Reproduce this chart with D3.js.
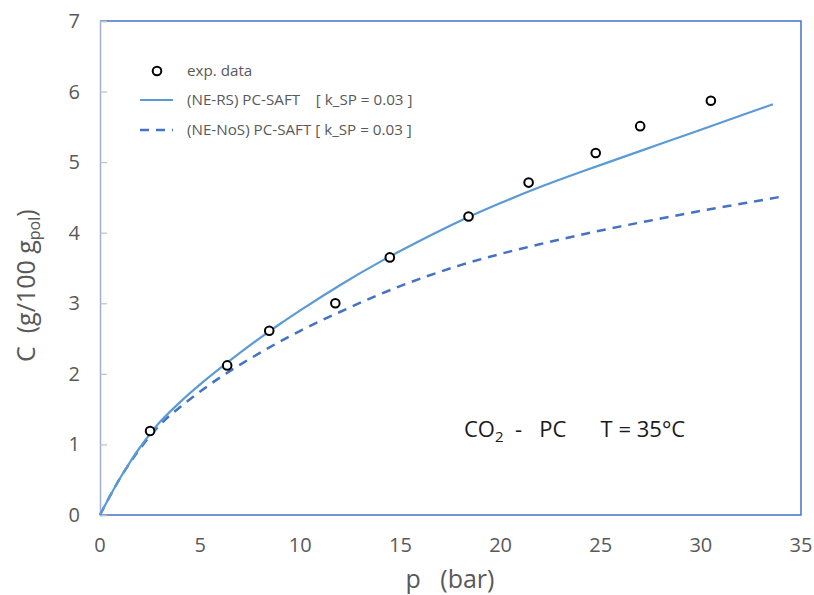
<!DOCTYPE html>
<html>
<head>
<meta charset="utf-8">
<script src="https://cdn.jsdelivr.net/npm/d3@7/dist/d3.min.js"></script>
<style>
  html, body { margin: 0; padding: 0; background: #fff; }
  svg text { font-family: "Open Sans", "Noto Sans", sans-serif; white-space: pre; }
</style>
</head>
<body>
<svg id="chart" width="814" height="595"></svg>
<script>
// Experimental sorption points: pressure (bar) and concentration (g/100 g_pol)
const expPressure = [2.5, 6.35, 8.45, 11.75, 14.47, 18.4, 21.4, 24.75, 26.97, 30.5];
const expConc     = [1.19, 2.12, 2.61, 3.00, 3.65, 4.23, 4.71, 5.13, 5.51, 5.87];

// (NE-RS) PC-SAFT model curve
const rsPressure = [0, 0.5, 1, 1.5, 2, 2.5, 3, 4, 5, 6, 7, 8, 9, 10, 12, 14, 16, 18, 20, 22, 24, 26, 28, 30, 32, 33.6];
const rsConc     = [0, 0.27, 0.52, 0.75, 0.96, 1.15, 1.32, 1.60, 1.85, 2.08, 2.30, 2.51, 2.71, 2.90, 3.26, 3.59, 3.89, 4.17, 4.42, 4.65, 4.86, 5.06, 5.26, 5.46, 5.66, 5.82];

// (NE-NoS) PC-SAFT model curve
const nosPressure = [0, 0.5, 1, 1.5, 2, 2.5, 3, 4, 5, 6, 7, 8, 9, 10, 12, 14, 16, 18, 20, 22, 24, 26, 28, 30, 32, 34];
const nosConc     = [0, 0.27, 0.52, 0.74, 0.94, 1.12, 1.28, 1.53, 1.75, 1.95, 2.13, 2.30, 2.46, 2.61, 2.88, 3.13, 3.35, 3.54, 3.70, 3.84, 3.97, 4.09, 4.20, 4.31, 4.41, 4.51];

const xTicks = [0, 5, 10, 15, 20, 25, 30, 35];
const yTicks = [0, 1, 2, 3, 4, 5, 6, 7];

const legendLabels = ["exp. data", "(NE-RS) PC-SAFT    [ k_SP = 0.03 ]", "(NE-NoS) PC-SAFT [ k_SP = 0.03 ]"];

const svg = d3.select("#chart");
const plot = { left: 100, right: 801, top: 21, bottom: 515 };

const x = d3.scaleLinear().domain([0, 35]).range([plot.left, plot.right]);
const y = d3.scaleLinear().domain([0, 7]).range([plot.bottom, plot.top]);

const axisGrey = "#595959";
const frameBlue = "#4472C4";
const rsColor = "#5B9BD5";
const nosColor = "#4472C4";

// Plot frame (top, right, bottom in blue)
svg.append("path")
  .attr("d", `M${plot.left},${plot.top}H${plot.right}V${plot.bottom}H${plot.left}`)
  .attr("fill", "none").attr("stroke", frameBlue).attr("stroke-width", 1.5);

// Y axis with inward ticks
const yAxis = d3.axisRight(y).tickValues(yTicks).tickSize(7).tickFormat("");
const gy = svg.append("g").attr("transform", `translate(${plot.left},0)`).call(yAxis);
gy.select(".domain").attr("stroke", "#9FB0D4").attr("stroke-width", 1.5);
gy.selectAll(".tick line").attr("stroke", "#BFBFBF").attr("stroke-width", 1.2);

// Y tick labels
svg.append("g").selectAll("text").data(yTicks).join("text")
  .attr("x", 80).attr("y", d => y(d)).attr("dy", "0.35em")
  .attr("text-anchor", "end").attr("font-size", 20).attr("fill", axisGrey)
  .text(d => d);

// X tick labels
svg.append("g").selectAll("text").data(xTicks).join("text")
  .attr("x", d => x(d)).attr("y", 545).attr("dy", "0.35em")
  .attr("text-anchor", "middle").attr("font-size", 20).attr("fill", axisGrey)
  .text(d => d);

// Axis titles
svg.append("text")
  .attr("x", 450).attr("y", 588).attr("text-anchor", "middle")
  .attr("font-size", 25).attr("fill", axisGrey)
  .text("p   (bar)");

const yTitle = svg.append("text")
  .attr("transform", "translate(35,362) rotate(-90)")
  .attr("text-anchor", "start").attr("font-size", 25).attr("fill", axisGrey);
yTitle.append("tspan").text("C  (g/100 g");
yTitle.append("tspan").attr("font-size", 16).attr("dy", 5).text("pol");
yTitle.append("tspan").attr("dy", -5).text(")");

// Model curves
const line = d3.line().x(d => x(d[0])).y(d => y(d[1])).curve(d3.curveMonotoneX);

svg.append("path")
  .datum(nosPressure.map((p, i) => [p, nosConc[i]]))
  .attr("d", line).attr("fill", "none")
  .attr("stroke", nosColor).attr("stroke-width", 2.5)
  .attr("stroke-dasharray", "9,7");

svg.append("path")
  .datum(rsPressure.map((p, i) => [p, rsConc[i]]))
  .attr("d", line).attr("fill", "none")
  .attr("stroke", rsColor).attr("stroke-width", 2.2);

// Experimental points
svg.append("g").selectAll("circle")
  .data(expPressure.map((p, i) => [p, expConc[i]]))
  .join("circle")
  .attr("cx", d => x(d[0])).attr("cy", d => y(d[1])).attr("r", 4.3)
  .attr("fill", "#fff").attr("stroke", "#000").attr("stroke-width", 2);

// Legend
const legend = svg.append("g");
const legendY = [71, 100, 130];
legend.append("circle").attr("cx", 157).attr("cy", legendY[0]).attr("r", 4.3)
  .attr("fill", "#fff").attr("stroke", "#000").attr("stroke-width", 2);
legend.append("line").attr("x1", 140).attr("x2", 173).attr("y1", legendY[1]).attr("y2", legendY[1])
  .attr("stroke", rsColor).attr("stroke-width", 2.2);
legend.append("line").attr("x1", 140).attr("x2", 173).attr("y1", legendY[2]).attr("y2", legendY[2])
  .attr("stroke", nosColor).attr("stroke-width", 2.5).attr("stroke-dasharray", "9,7");
legend.selectAll("text").data(legendLabels).join("text")
  .attr("x", 187).attr("y", (d, i) => legendY[i]).attr("dy", "0.35em")
  .attr("font-size", 15.2).attr("fill", axisGrey)
  .text(d => d);

// System annotation
const note = svg.append("text")
  .attr("x", 464).attr("y", 437).attr("font-size", 22).attr("fill", "#1a1a1a");
note.append("tspan").text("CO");
note.append("tspan").attr("font-size", 15).attr("dy", 5).text("2");
note.append("tspan").attr("dy", -5).text("  -   PC      T = 35°C");
</script>
</body>
</html>
